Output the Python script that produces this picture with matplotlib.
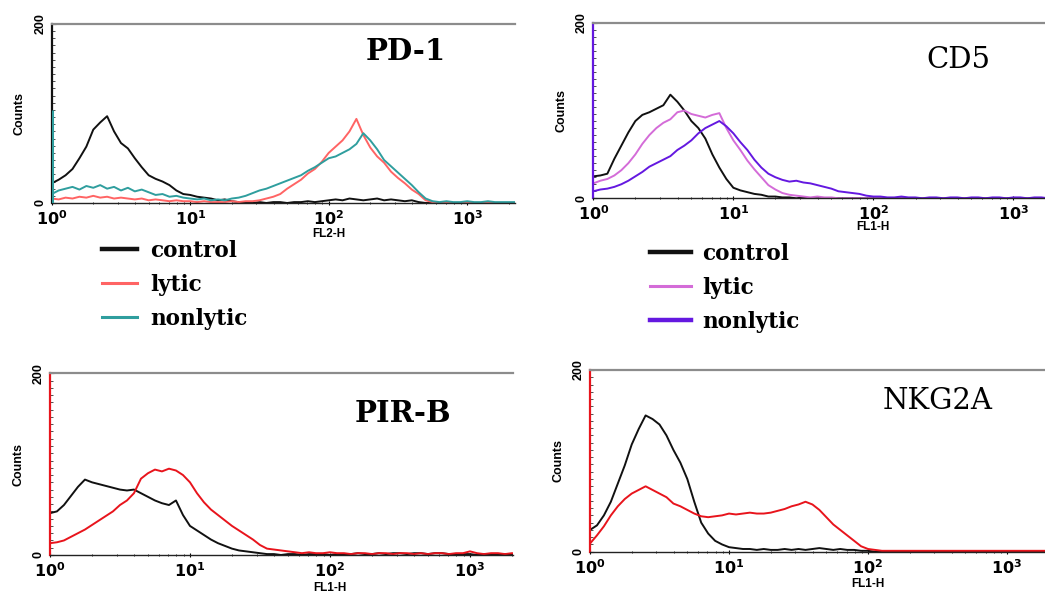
"""
Flow cytometry histograms: PD-1, CD5, PIR-B, NKG2A (control / lytic / nonlytic)
"""

import matplotlib
matplotlib.use("Agg")
import matplotlib.pyplot as plt
from matplotlib.lines import Line2D
from matplotlib.ticker import FixedLocator, LogLocator, MultipleLocator, NullFormatter

# ── DATA ─────────────────────────────────────────────────
# channel positions in decades (log10 of fluorescence)
fl_log = [0.00, 0.05, 0.10, 0.15, 0.20, 0.25, 0.30, 0.35, 0.40, 0.45,
          0.50, 0.55, 0.60, 0.65, 0.70, 0.75, 0.80, 0.85, 0.90, 0.95,
          1.00, 1.05, 1.10, 1.15, 1.20, 1.25, 1.30, 1.35, 1.40, 1.45,
          1.50, 1.55, 1.60, 1.65, 1.70, 1.75, 1.80, 1.85, 1.90, 1.95,
          2.00, 2.05, 2.10, 2.15, 2.20, 2.25, 2.30, 2.35, 2.40, 2.45,
          2.50, 2.55, 2.60, 2.65, 2.70, 2.75, 2.80, 2.85, 2.90, 2.95,
          3.00, 3.05, 3.10, 3.15, 3.20, 3.25, 3.30, 3.35]
fl = [10 ** v for v in fl_log]

pd1_control = [22, 26, 31, 38, 50, 63, 82, 90, 97, 80,
               67, 61, 50, 40, 31, 27, 24, 20, 14, 10,
               9, 7, 6, 5, 3, 4, 2, 1, 1, 0,
               1, 0, 1, 1, 0, 1, 1, 2, 1, 2,
               3, 4, 3, 5, 4, 3, 4, 5, 3, 4,
               3, 2, 3, 1, 0, 0, 0, 0, 0, 0,
               0, 0, 0, 0, 0, 0, 0, 0]
pd1_lytic = [5, 4, 6, 5, 7, 6, 8, 6, 7, 5,
             6, 5, 4, 5, 3, 4, 3, 2, 3, 2,
             2, 1, 2, 1, 1, 1, 2, 1, 2, 2,
             3, 5, 7, 10, 16, 21, 26, 33, 38, 46,
             56, 63, 70, 80, 94, 76, 62, 52, 45, 35,
             28, 22, 15, 10, 3, 1, 0, 0, 0, 0,
             0, 0, 0, 0, 0, 0, 0, 0]
pd1_nonlytic = [10, 14, 16, 18, 15, 19, 17, 20, 16, 18,
                14, 17, 13, 15, 12, 9, 10, 7, 8, 6,
                5, 4, 5, 3, 4, 3, 5, 6, 8, 11,
                14, 16, 19, 22, 25, 28, 31, 36, 40, 45,
                50, 52, 56, 60, 66, 78, 70, 60, 48, 41,
                34, 27, 20, 12, 5, 2, 1, 2, 1, 1,
                2, 1, 1, 2, 1, 1, 1, 1]

cd5_control = [25, 26, 28, 45, 60, 75, 88, 95, 98, 102,
               106, 118, 110, 100, 88, 80, 68, 50, 35, 22,
               12, 9, 7, 5, 4, 2, 2, 1, 1, 0,
               1, 0, 0, 0, 0, 0, 0, 0, 0, 0,
               0, 0, 0, 0, 0, 0, 0, 0, 0, 0,
               0, 0, 0, 0, 0, 0, 0, 0, 0, 0,
               0, 0, 0, 0, 0, 0, 0, 0]
cd5_lytic = [17, 20, 22, 26, 32, 40, 50, 62, 72, 80,
             86, 90, 98, 100, 96, 94, 92, 95, 97, 80,
             66, 55, 43, 33, 24, 15, 10, 6, 4, 3,
             2, 1, 2, 1, 1, 0, 0, 0, 0, 0,
             0, 0, 0, 0, 0, 0, 0, 0, 0, 0,
             0, 0, 0, 0, 0, 0, 0, 0, 0, 0,
             0, 0, 0, 0, 0, 0, 0, 0]
cd5_nonlytic = [8, 10, 11, 13, 16, 20, 25, 30, 36, 40,
                44, 48, 55, 60, 66, 74, 80, 84, 88, 82,
                74, 64, 55, 44, 35, 28, 24, 21, 19, 20,
                18, 17, 15, 13, 11, 8, 7, 6, 5, 3,
                2, 2, 1, 1, 2, 1, 1, 0, 1, 1,
                0, 1, 1, 0, 1, 1, 0, 1, 1, 0,
                1, 1, 0, 1, 1, 0, 1, 1]

pirb_control = [46, 48, 55, 65, 75, 83, 80, 78, 76, 74,
                72, 71, 72, 68, 64, 60, 57, 55, 60, 44,
                32, 27, 22, 17, 13, 10, 7, 5, 4, 3,
                2, 1, 1, 0, 1, 1, 0, 1, 1, 1,
                0, 1, 1, 1, 2, 1, 1, 2, 1, 2,
                2, 1, 2, 2, 1, 2, 2, 1, 1, 1,
                1, 0, 1, 1, 0, 1, 0, 0]
pirb_lytic = [13, 14, 16, 20, 24, 28, 33, 38, 43, 48,
              55, 60, 68, 84, 90, 94, 92, 95, 93, 88,
              80, 68, 58, 50, 44, 38, 32, 27, 22, 17,
              11, 7, 6, 5, 4, 3, 2, 3, 2, 2,
              3, 2, 2, 1, 2, 2, 1, 2, 2, 1,
              2, 2, 1, 2, 1, 2, 2, 1, 2, 2,
              4, 2, 1, 2, 2, 1, 2, 1]

nkg_control = [24, 29, 40, 55, 75, 95, 118, 135, 150, 146,
               140, 128, 112, 98, 80, 55, 32, 20, 12, 8,
               5, 4, 3, 3, 2, 3, 2, 2, 3, 2,
               3, 2, 3, 4, 3, 2, 3, 2, 2, 1,
               1, 0, 0, 0, 0, 0, 0, 0, 0, 0,
               0, 0, 0, 0, 0, 0, 0, 0, 0, 0,
               0, 0, 0, 0, 0, 0, 0, 0]
nkg_lytic = [9, 18, 28, 40, 50, 58, 64, 68, 72, 68,
             64, 60, 53, 50, 46, 42, 39, 38, 39, 40,
             42, 41, 42, 43, 42, 42, 43, 45, 47, 50,
             52, 55, 52, 46, 38, 30, 24, 18, 12, 6,
             3, 2, 1, 1, 1, 1, 1, 1, 1, 1,
             1, 1, 1, 1, 1, 1, 1, 1, 1, 1,
             1, 1, 1, 1, 1, 1, 1, 1]

# height of the first-channel pile-up on the left axis
pd1_first_channel = 104

labels = ["control", "lytic", "nonlytic"]

# ── STYLE ────────────────────────────────────────────────
BLACK = "#111111"
SALMON = "#ff6464"
TEAL = "#2f9e9e"
ORCHID = "#d46cd8"
VIOLET = "#6418e0"
RED = "#e8141c"

SERIF = "DejaVu Serif"
SANS = "Liberation Sans"

fig = plt.figure(figsize=(10.45, 5.96), dpi=100)


def make_panel(rect, xmax, title, title_xy, title_weight, xlabel, xlabel_off,
               series, spine_color):
    ax = fig.add_axes(rect)
    for y, color in series:
        ax.plot(fl, y, color=color, linewidth=1.4)
    ax.set_xscale("log")
    ax.set_xlim(1, xmax)
    ax.set_ylim(0, 200)

    ax.spines["right"].set_visible(False)
    ax.spines["top"].set_color("#8c8c8c")
    ax.spines["top"].set_linewidth(1.6)
    ax.spines["left"].set_color(spine_color)
    ax.spines["left"].set_linewidth(1.6)
    ax.spines["bottom"].set_color("#222222")
    ax.spines["bottom"].set_linewidth(1.0)

    ax.xaxis.set_major_locator(FixedLocator([1, 10, 100, 1000]))
    ax.xaxis.set_minor_locator(LogLocator(base=10, subs=range(2, 10)))
    ax.xaxis.set_minor_formatter(NullFormatter())
    ax.set_xticklabels([r"$\mathbf{10^{0}}$", r"$\mathbf{10^{1}}$",
                        r"$\mathbf{10^{2}}$", r"$\mathbf{10^{3}}$"])
    ax.tick_params(axis="x", which="major", length=3, direction="inout",
                   labelsize=11.5, pad=3)
    ax.tick_params(axis="x", which="minor", length=2, direction="inout")

    ax.yaxis.set_major_locator(FixedLocator([0, 200]))
    ax.yaxis.set_minor_locator(MultipleLocator(8))
    ax.tick_params(axis="y", which="major", length=3, direction="in",
                   labelsize=9, pad=4)
    ax.tick_params(axis="y", which="minor", length=2, direction="in",
                   color="#333333")
    for t in ax.get_yticklabels():
        t.set_rotation(90)
        t.set_va("center")
        t.set_fontweight("bold")
        t.set_fontfamily(SANS)
    ax.set_ylabel("Counts", fontsize=9, fontweight="bold", family=SANS, labelpad=6)

    ax.annotate(xlabel, xy=(100, 0), xycoords=("data", "axes fraction"),
                xytext=(0, -xlabel_off), textcoords="offset pixels",
                ha="center", va="center", fontsize=8.5, fontweight="bold",
                family=SANS)
    ax.text(title_xy[0], title_xy[1], title, transform=ax.transAxes,
            ha="center", va="center", fontsize=21, fontweight=title_weight,
            family=SERIF)
    return ax


# ── PANELS ───────────────────────────────────────────────
ax1 = make_panel([0.0495, 0.6594, 0.4433, 0.3003], 10 ** 3.345, "PD-1",
                 (0.765, 0.845), "bold", "FL2-H", 31,
                 [(pd1_control, BLACK), (pd1_lytic, SALMON), (pd1_nonlytic, TEAL)],
                 BLACK)
ax1.vlines(1, 0, pd1_first_channel, color=TEAL, linewidth=2.2, zorder=5)

ax2 = make_panel([0.5678, 0.6673, 0.4322, 0.2946], 10 ** 3.226, "CD5",
                 (0.808, 0.785), "normal", "FL1-H", 29,
                 [(cd5_control, BLACK), (cd5_lytic, ORCHID), (cd5_nonlytic, VIOLET)],
                 VIOLET)

ax3 = make_panel([0.0478, 0.0688, 0.4431, 0.3049], 10 ** 3.307, "PIR-B",
                 (0.763, 0.78), "bold", "FL1-H", 33,
                 [(pirb_control, BLACK), (pirb_lytic, RED)],
                 RED)

ax4 = make_panel([0.5646, 0.0743, 0.4354, 0.3049], 10 ** 3.273, "NKG2A",
                 (0.765, 0.83), "normal", "FL1-H", 32,
                 [(nkg_control, BLACK), (nkg_lytic, RED)],
                 RED)

# ── LEGENDS ──────────────────────────────────────────────
leg_font = {"family": SERIF, "weight": "bold", "size": 15.5}
h1 = [Line2D([], [], color=c, linewidth=lw) for c, lw in
      [(BLACK, 3.2), (SALMON, 2.2), (TEAL, 2.2)]]
fig.legend(h1, labels, loc="upper left", bbox_to_anchor=(0.089, 0.612),
           frameon=False, prop=leg_font, handlelength=1.65, handletextpad=0.6,
           labelspacing=0.56, borderaxespad=0)
h2 = [Line2D([], [], color=c, linewidth=lw) for c, lw in
      [(BLACK, 3.2), (ORCHID, 2.2), (VIOLET, 3.2)]]
fig.legend(h2, labels, loc="upper left", bbox_to_anchor=(0.614, 0.607),
           frameon=False, prop=leg_font, handlelength=1.9, handletextpad=0.5,
           labelspacing=0.56, borderaxespad=0)

plt.savefig("out.png", dpi=100)
print("Saved out.png")
